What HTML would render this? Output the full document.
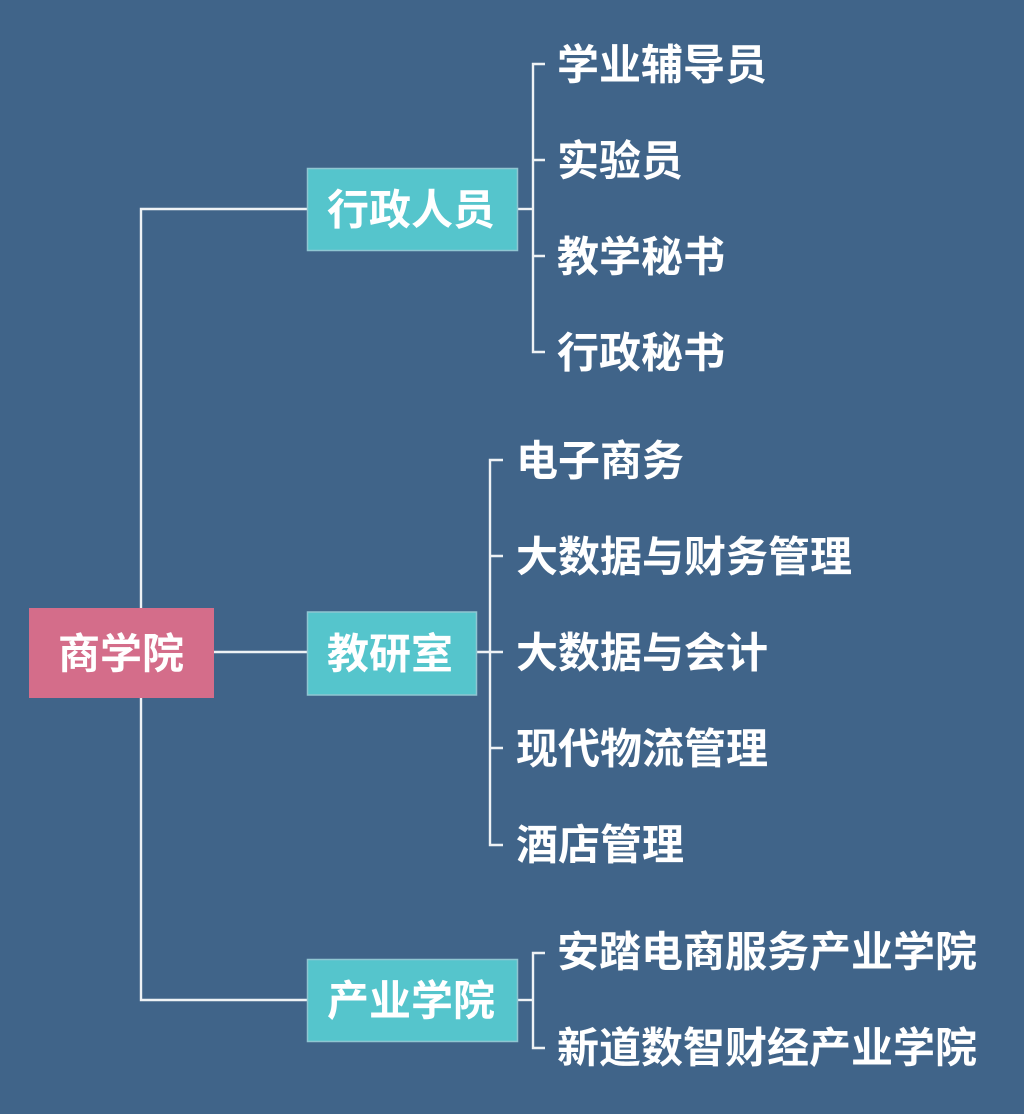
<!DOCTYPE html>
<html>
<head>
<meta charset="utf-8">
<style>
  html, body { margin: 0; padding: 0; }
  body { width: 1024px; height: 1114px; background: #406489; overflow: hidden; }
  svg { display: block; }
  text { font-family: "Liberation Sans", "Noto Sans CJK SC", "WenQuanYi Zen Hei", sans-serif; font-weight: bold; fill: #ffffff; }
</style>
</head>
<body>
<svg width="1024" height="1114" viewBox="0 0 1024 1114" xmlns="http://www.w3.org/2000/svg">
  <rect x="0" y="0" width="1024" height="1114" fill="#406489"/>
  <g stroke="#eef2f5" stroke-width="2.4" fill="none">
    <!-- trunk -->
    <path d="M307 209 H141 V1000 H307"/>
    <path d="M214 652 H307"/>
    <!-- group 1 -->
    <path d="M517 209 H533"/>
    <path d="M545 64 H533 V352 H545"/>
    <path d="M533 160 H545 M533 256 H545"/>
    <!-- group 2 -->
    <path d="M476 652 H503"/>
    <path d="M503 460 H490 V845 H503"/>
    <path d="M490 556 H503 M490 748 H503"/>
    <!-- group 3 -->
    <path d="M518 1000 H533"/>
    <path d="M545 953 H533 V1048 H545"/>
  </g>

  <!-- root -->
  <rect x="29" y="608" width="185" height="90" fill="#D46D8A"/>
  <text x="121" y="654" font-size="42" text-anchor="middle" dominant-baseline="central">商学院</text>

  <!-- group boxes -->
  <rect x="307.5" y="168.5" width="210" height="82" fill="#55C5CC" stroke="#8FC6D2" stroke-width="1.5"/>
  <text x="411" y="210" font-size="42" text-anchor="middle" dominant-baseline="central">行政人员</text>

  <rect x="307.5" y="612" width="169" height="83" fill="#55C5CC" stroke="#8FC6D2" stroke-width="1.5"/>
  <text x="390" y="654" font-size="42" text-anchor="middle" dominant-baseline="central">教研室</text>

  <rect x="307.5" y="959.5" width="210" height="82" fill="#55C5CC" stroke="#8FC6D2" stroke-width="1.5"/>
  <text x="411" y="1001" font-size="42" text-anchor="middle" dominant-baseline="central">产业学院</text>

  <!-- group 1 items -->
  <g font-size="42" dominant-baseline="central">
    <text x="557" y="65" dominant-baseline="central">学业辅导员</text>
    <text x="557" y="161" dominant-baseline="central">实验员</text>
    <text x="557" y="257" dominant-baseline="central">教学秘书</text>
    <text x="557" y="353" dominant-baseline="central">行政秘书</text>

    <text x="516" y="461" dominant-baseline="central">电子商务</text>
    <text x="516" y="557" dominant-baseline="central">大数据与财务管理</text>
    <text x="516" y="653" dominant-baseline="central">大数据与会计</text>
    <text x="516" y="749" dominant-baseline="central">现代物流管理</text>
    <text x="516" y="845" dominant-baseline="central">酒店管理</text>

    <text x="557" y="952" dominant-baseline="central">安踏电商服务产业学院</text>
    <text x="557" y="1048" dominant-baseline="central">新道数智财经产业学院</text>
  </g>
</svg>
</body>
</html>
